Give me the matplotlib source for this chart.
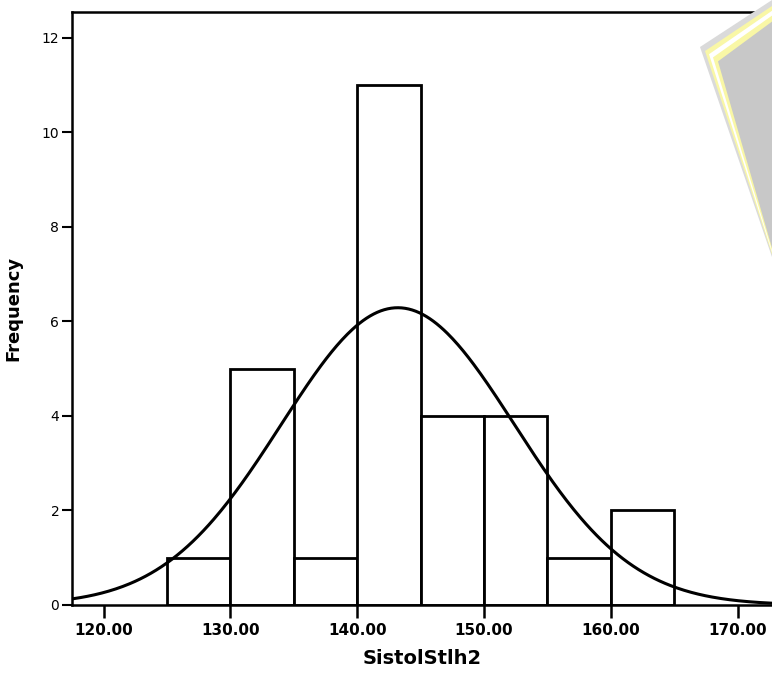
import numpy as np
import matplotlib

matplotlib.use("Agg")
import matplotlib.pyplot as plt
from matplotlib.patches import Polygon

# histogram of systolic pressure (bin width 5)
bin_edges = [125, 130, 135, 140, 145, 150, 155, 160, 165]
counts = [1, 5, 1, 11, 4, 4, 1, 2]
x_ticks = [120, 130, 140, 150, 160, 170]
y_ticks = [0, 2, 4, 6, 8, 10, 12]

# normal curve parameters
mean_val = 143.2
sd_val = 9.2
bin_width = 5

plt.rcParams.update({"font.family": "DejaVu Sans"})

W, H = 772, 689
fig = plt.figure(figsize=(W / 100, H / 100), dpi=100)
ax = fig.add_axes([0.093, 0.122, 0.907, 0.861])

lefts = np.array(bin_edges[:-1])
ax.bar(lefts, counts, width=np.diff(bin_edges), align="edge",
       color="white", edgecolor="black", linewidth=2.0, zorder=2)

n = sum(counts)
xs = np.linspace(117.5, 172.7, 400)
ys = n * bin_width / (sd_val * np.sqrt(2 * np.pi)) * np.exp(-0.5 * ((xs - mean_val) / sd_val) ** 2)
ax.plot(xs, ys, color="black", linewidth=2.2, zorder=3)

ax.set_xlim(117.5, 172.7)
ax.set_ylim(0, 12.55)
ax.set_xticks(x_ticks)
ax.set_xticklabels([f"{v:.2f}" for v in x_ticks], fontsize=11, fontweight="bold")
ax.set_yticks(y_ticks)
ax.set_yticklabels([str(v) for v in y_ticks], fontsize=10)
ax.tick_params(axis="x", length=9, width=1.8, direction="out", pad=4)
ax.tick_params(axis="y", length=7, width=1.5, direction="out", pad=2)

ax.spines["right"].set_visible(False)
for side in ("left", "top", "bottom"):
    ax.spines[side].set_linewidth(1.8)

ax.set_ylabel("Frequency", fontsize=13, fontweight="bold", labelpad=14)
ax.set_xlabel("SistolStlh2", fontsize=14, fontweight="bold", labelpad=8)

# faint logo mark in the upper right corner (pixel coords, top-left origin)
layers = [(0, "#dadada"), (5, "#f9f7a6"), (9, "#ffffff"), (13, "#f9f7a6"), (18, "#c8c8c8")]
for off, col in layers:
    pts = [(700 + off, 47 + off * 0.8), (772, off * 1.2), (772, 257 - off * 0.5)]
    poly = Polygon([(px / W, 1 - py / H) for px, py in pts], closed=True,
                   transform=fig.transFigure, facecolor=col, edgecolor="none",
                   zorder=0)
    fig.patches.append(poly)

fig.savefig("out.png", dpi=100)
